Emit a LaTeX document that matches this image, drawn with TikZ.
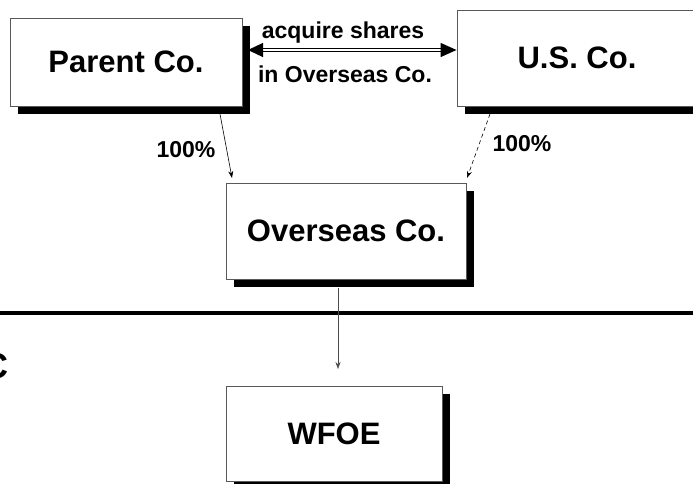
\documentclass[tikz,border=0pt]{standalone}
\usepackage{fontspec}
\setmainfont{Liberation Sans}
\usetikzlibrary{arrows.meta,shadows}
\begin{document}
\begin{tikzpicture}[x=1pt,y=-1pt,
  cobox/.style={draw=black!65, line width=0.9pt, fill=white, inner sep=0pt,
    font=\bfseries\fontsize{31}{36}\selectfont,
    general shadow={fill=black, shadow xshift=8pt, shadow yshift=-8pt}},
  lbl/.style={font=\bfseries\fontsize{23}{27}\selectfont, inner sep=0pt, anchor=base},
  thin/.style={line width=0.6pt, -{Stealth[length=7pt,width=5pt]}}
]
\useasboundingbox (0,0) rectangle (693,483);

% boxes
\node[cobox, minimum width=232pt, minimum height=88pt] (parent) at (126,62) {Parent Co.};
\node[cobox, minimum width=240pt, minimum height=96pt] (us) at (577,58) {U.S. Co.};
\node[cobox, minimum width=240pt, minimum height=96pt] (overseas) at (346,231) {Overseas Co.};
\node[cobox, minimum width=216pt, minimum height=95pt] (wfoe) at (334,433.5) {WFOE};

% separator line
\coordinate (h1) at (0,313);
\coordinate (h2) at (693,313);
\draw[line width=4pt] (h1) -- (h2);

% partly visible text at the left edge
\node[font=\bfseries\fontsize{36}{40}\selectfont, inner sep=0pt, anchor=east] (prc) at (9,366) {C};

% acquire shares double arrow
\coordinate (a1) at (248,50);
\draw[double=white, double distance=1.4pt, line width=1.3pt,
  {Triangle[length=15pt,width=14pt]}-{Triangle[length=16pt,width=14pt]}]
  (a1) -- (us.west |- a1);
\node[lbl] (acq) at (343,38) {acquire shares};
\node[lbl] (inov) at (345,82) {in Overseas Co.};

% ownership arrows
\coordinate (p1) at (220,114);
\coordinate (p2) at (232,178);
\draw[thin] (p1) -- (p2);
\node[lbl] (pct1) at (186,157) {100\%};

\coordinate (u1) at (490,114);
\coordinate (u2) at (467,178);
\draw[thin, dashed, dash pattern=on 4pt off 3pt] (u1) -- (u2);
\node[lbl] (pct2) at (522,151) {100\%};

\coordinate (o1) at (338,288);
\coordinate (o2) at (338,369);
\draw[thin, draw=black!70] (o1) -- (o2);
\end{tikzpicture}
\end{document}
